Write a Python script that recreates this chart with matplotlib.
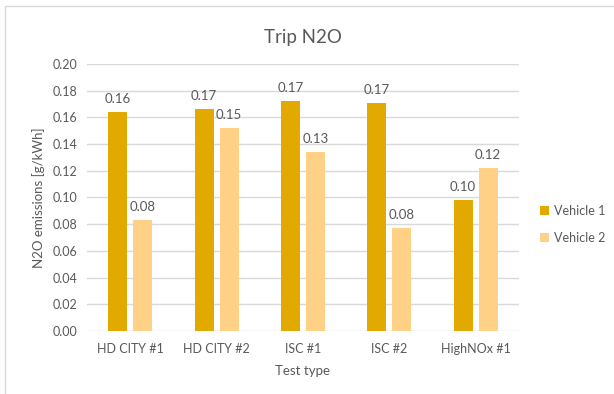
import numpy as np
import matplotlib.pyplot as plt
from matplotlib.patches import Rectangle

plt.rcParams['font.family'] = ['Lato', 'DejaVu Sans']

tests = ["HD CITY #1", "HD CITY #2", "ISC #1", "ISC #2", "HighNOx #1"]
vehicle1 = [0.164, 0.166, 0.172, 0.171, 0.098]
vehicle2 = [0.083, 0.152, 0.134, 0.077, 0.122]

c1 = '#E2AA00'
c2 = '#FFD186'
txt = '#595959'

fig = plt.figure(figsize=(6.14, 3.94), dpi=100)
ax = fig.add_axes([0.1417, 0.16, 0.7033, 0.6776])

# light chart-area border
fig.patches.append(Rectangle((0.008, -0.01), 1.1, 0.995, transform=fig.transFigure,
                             fill=False, edgecolor='#D9D9D9', lw=1))

x = np.arange(len(tests))
w = 0.22
off = 0.145
b1 = ax.bar(x - off, vehicle1, w, color=c1, label='Vehicle 1', zorder=3)
b2 = ax.bar(x + off, vehicle2, w, color=c2, label='Vehicle 2', zorder=3)

for bars in (b1, b2):
    for r in bars:
        h = r.get_height()
        ax.annotate(f"{h:.2f}", (r.get_x() + r.get_width() / 2, h),
                    xytext=(0, 5), textcoords='offset points',
                    ha='center', va='bottom', fontsize=9.5, color=txt)

ax.set_xlim(-0.5, len(tests) - 0.5)
ax.set_ylim(0, 0.2)
ax.set_yticks(np.arange(0, 0.201, 0.02))
ax.set_yticklabels([f"{v:.2f}" for v in np.arange(0, 0.201, 0.02)])
ax.set_xticks(x)
ax.set_xticklabels(tests)
ax.tick_params(length=0, labelsize=9, colors=txt)
ax.tick_params(axis='y', pad=7)
ax.tick_params(axis='x', pad=9)
ax.grid(axis='y', color='#D9D9D9', lw=1, zorder=0)
for s in ax.spines.values():
    s.set_visible(False)

ax.set_title("Trip N2O", fontsize=13.5, color=txt, pad=15)
ax.set_xlabel("Test type", fontsize=9.5, color=txt, labelpad=7)
ax.set_ylabel("N2O emissions [g/kWh]", fontsize=9.5, color=txt, labelpad=5)

leg = ax.legend(loc='center left', bbox_to_anchor=(1.05, 0.40), frameon=False,
                fontsize=9, handlelength=0.7, handleheight=0.7, handletextpad=0.4,
                labelspacing=1.2, labelcolor=txt, borderpad=0, borderaxespad=0)

fig.savefig("out.png", dpi=100)
